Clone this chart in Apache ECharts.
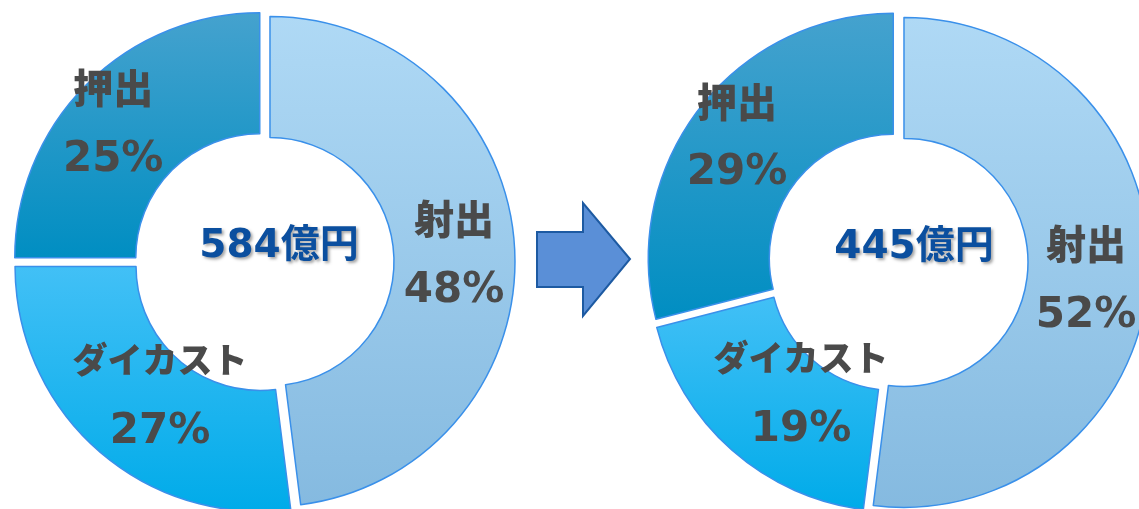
<!DOCTYPE html>
<html>
<head>
<meta charset="utf-8">
<script src="https://cdn.jsdelivr.net/npm/echarts@6/dist/echarts.min.js"></script>
<style>
html,body{margin:0;padding:0;background:#fff;}
#c{width:1139px;height:509px;}
</style>
</head>
<body>
<div id="c"></div>
<script>
// ---- data ----
var categories = ['射出', 'ダイカスト', '押出'];
var valuesBefore = [48, 27, 25];
var valuesAfter = [52, 19, 29];
var totals = ['584億円', '445億円'];

// ---- styles ----
var gradients = [
  ['#afd9f5', '#85bae0'],
  ['#42c0f6', '#00abe9'],
  ['#45a2ce', '#008ec2']
];
// label nudges (dx, dy) per series, per category
var labelNudge = [
  [[-3, 9], [24, -7], [-14, 3]],
  [[-5, 10], [31, -9], [-8, -2]]
];
function grad(c) {
  return new echarts.graphic.LinearGradient(0, 0, 0, 1, [
    {offset: 0, color: c[0]}, {offset: 1, color: c[1]}
  ]);
}
function makeData(vals) {
  return categories.map(function (n, i) {
    return {
      name: n, value: vals[i], selected: true,
      itemStyle: {color: grad(gradients[i])}
    };
  });
}
var FONT = '"DejaVu Sans", "Noto Sans CJK JP", sans-serif';
var CJK = '"Noto Sans CJK JP", sans-serif';
function pieSeries(center, vals, si) {
  return {
    type: 'pie',
    center: center,
    radius: [124, 245],
    startAngle: 90,
    clockwise: true,
    selectedMode: 'multiple',
    selectedOffset: 6,
    animation: false,
    silent: true,
    emphasis: {disabled: true},
    itemStyle: {borderColor: '#3a90ea', borderWidth: 1.5},
    label: {
      show: true,
      position: 'inside',
      formatter: function (p) {
        var tag = p.name.length > 2 ? 'k' : 'n';
        return '{' + tag + '|' + p.name + '}\n{p|' + p.value + '%}';
      },
      rich: {
        n: {fontFamily: CJK, fontWeight: 900, fontSize: 40, color: '#4a4a4a', lineHeight: 64},
        k: {fontFamily: CJK, fontWeight: 900, fontSize: 35, color: '#4a4a4a', lineHeight: 64},
        p: {fontFamily: FONT, fontWeight: 'bold', fontSize: 42, color: '#4a4a4a', lineHeight: 80}
      }
    },
    labelLayout: function (params) {
      var d = labelNudge[si][params.dataIndex];
      return {dx: d[0], dy: d[1]};
    },
    labelLine: {show: false},
    data: makeData(vals)
  };
}

var chart = echarts.init(document.getElementById('c'), null, {renderer: 'canvas'});
var titleStyle = {
  fontFamily: FONT, fontWeight: 'bold', fontSize: 39, color: '#0b4f9f',
  textShadowColor: 'rgba(0,0,0,0.35)', textShadowBlur: 3,
  textShadowOffsetX: 2, textShadowOffsetY: 2
};
chart.setOption({
  backgroundColor: '#ffffff',
  title: [
    {text: totals[0], left: 279, top: 247, textAlign: 'center', textVerticalAlign: 'middle', textStyle: titleStyle, padding: 0},
    {text: totals[1], left: 914, top: 248, textAlign: 'center', textVerticalAlign: 'middle', textStyle: titleStyle, padding: 0}
  ],
  graphic: [{
    type: 'polygon',
    shape: {points: [[537, 232], [583, 232], [583, 203], [630, 259], [583, 316], [583, 287], [537, 287]]},
    style: {fill: '#5a8fd7', stroke: '#1d5aa2', lineWidth: 2},
    silent: true
  }],
  series: [
    pieSeries([264, 262], valuesBefore, 0),
    pieSeries([898, 262], valuesAfter, 1)
  ]
});
</script>
</body>
</html>
